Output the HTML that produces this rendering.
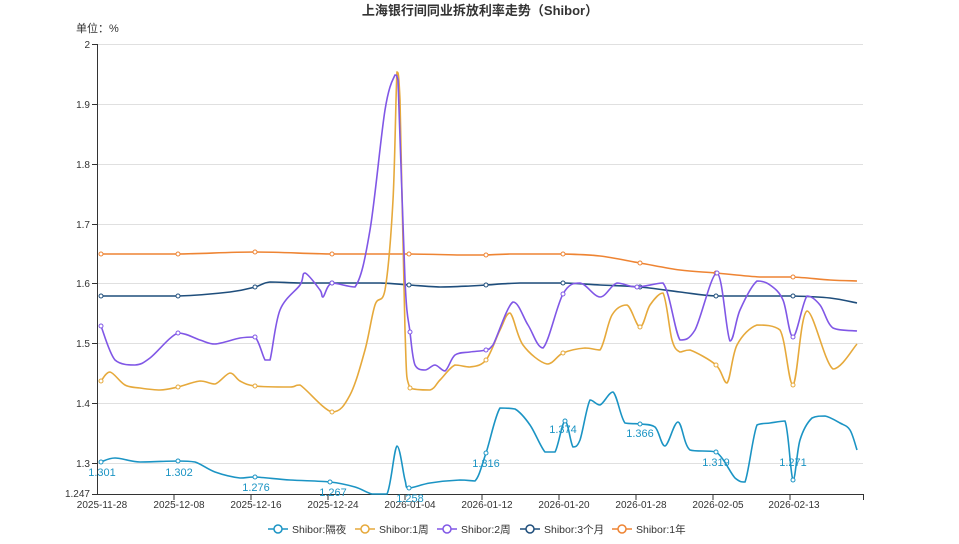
<!DOCTYPE html>
<html><head><meta charset="utf-8"><style>
body{margin:0;background:#fff;font-family:"Liberation Sans","Noto Sans CJK SC",sans-serif}
svg text{font-family:"Liberation Sans","Noto Sans CJK SC",sans-serif}
</style></head><body>
<svg id="s" width="959" height="539" xmlns="http://www.w3.org/2000/svg">
<text x="480" y="15" text-anchor="middle" font-size="13" font-weight="bold" fill="#333">上海银行间同业拆放利率走势（Shibor）</text>
<text x="76" y="32" font-size="11" fill="#333">单位：%</text>
<g stroke="#e0e0e0" stroke-width="1">
<line x1="97" x2="863" y1="44.5" y2="44.5"/><line x1="97" x2="863" y1="104.5" y2="104.5"/>
<line x1="97" x2="863" y1="164.5" y2="164.5"/><line x1="97" x2="863" y1="224.5" y2="224.5"/>
<line x1="97" x2="863" y1="283.5" y2="283.5"/><line x1="97" x2="863" y1="343.5" y2="343.5"/>
<line x1="97" x2="863" y1="403.5" y2="403.5"/><line x1="97" x2="863" y1="463.5" y2="463.5"/>
</g>
<g stroke="#333" stroke-width="1">
<line x1="97.5" x2="97.5" y1="44" y2="495"/><line x1="97" x2="864" y1="494.5" y2="494.5"/>
<line x1="92" x2="97" y1="44.5" y2="44.5"/><line x1="92" x2="97" y1="104.5" y2="104.5"/><line x1="92" x2="97" y1="164.5" y2="164.5"/><line x1="92" x2="97" y1="224.5" y2="224.5"/><line x1="92" x2="97" y1="283.5" y2="283.5"/><line x1="92" x2="97" y1="343.5" y2="343.5"/><line x1="92" x2="97" y1="403.5" y2="403.5"/><line x1="92" x2="97" y1="463.5" y2="463.5"/><line x1="92" x2="97" y1="494.5" y2="494.5"/>
<line x1="174" x2="174" y1="495" y2="500"/><line x1="251" x2="251" y1="495" y2="500"/><line x1="328" x2="328" y1="495" y2="500"/><line x1="405" x2="405" y1="495" y2="500"/><line x1="482" x2="482" y1="495" y2="500"/><line x1="559" x2="559" y1="495" y2="500"/><line x1="636" x2="636" y1="495" y2="500"/><line x1="713" x2="713" y1="495" y2="500"/><line x1="790" x2="790" y1="495" y2="500"/><line x1="863.5" x2="863.5" y1="495" y2="500"/>
</g>
<g font-size="10" fill="#333" text-anchor="end">
<text x="90" y="48">2</text><text x="90" y="108">1.9</text><text x="90" y="168">1.8</text><text x="90" y="228">1.7</text><text x="90" y="287">1.6</text><text x="90" y="347">1.5</text><text x="90" y="407">1.4</text><text x="90" y="467">1.3</text><text x="90" y="497">1.247</text>
</g>
<g font-size="10" fill="#333" text-anchor="middle">
<text x="102" y="508">2025-11-28</text><text x="179" y="508">2025-12-08</text><text x="256" y="508">2025-12-16</text><text x="333" y="508">2025-12-24</text><text x="410" y="508">2026-01-04</text><text x="487" y="508">2026-01-12</text><text x="564" y="508">2026-01-20</text><text x="641" y="508">2026-01-28</text><text x="718" y="508">2026-02-05</text><text x="794" y="508">2026-02-13</text>
</g>
<g id="series"></g>
<g font-size="11" fill="#1b94c4" text-anchor="middle">
<text x="102" y="476">1.301</text><text x="179" y="476">1.302</text><text x="256" y="491">1.276</text><text x="333" y="496">1.267</text><text x="410" y="502">1.258</text><text x="486" y="467">1.316</text><text x="563" y="433">1.374</text><text x="640" y="437">1.366</text><text x="716" y="466">1.319</text><text x="793" y="466">1.271</text>
</g>
<g font-size="10.5" fill="#333">
<g transform="translate(268,529)"><line x1="0" x2="20" stroke="#1b94c4" stroke-width="1.5"/><circle cx="10" r="4" fill="#fff" stroke="#1b94c4" stroke-width="1.5"/><text x="24" y="4">Shibor:隔夜</text></g>
<g transform="translate(355,529)"><line x1="0" x2="20" stroke="#e6a93b" stroke-width="1.5"/><circle cx="10" r="4" fill="#fff" stroke="#e6a93b" stroke-width="1.5"/><text x="24" y="4">Shibor:1周</text></g>
<g transform="translate(437,529)"><line x1="0" x2="20" stroke="#8057e6" stroke-width="1.5"/><circle cx="10" r="4" fill="#fff" stroke="#8057e6" stroke-width="1.5"/><text x="24" y="4">Shibor:2周</text></g>
<g transform="translate(520,529)"><line x1="0" x2="20" stroke="#1f4e7c" stroke-width="1.5"/><circle cx="10" r="4" fill="#fff" stroke="#1f4e7c" stroke-width="1.5"/><text x="24" y="4">Shibor:3个月</text></g>
<g transform="translate(612,529)"><line x1="0" x2="20" stroke="#ee8433" stroke-width="1.5"/><circle cx="10" r="4" fill="#fff" stroke="#ee8433" stroke-width="1.5"/><text x="24" y="4">Shibor:1年</text></g>
</g>
</svg>
<script>
var S=[
["#ee8433",[101,254,178,254,255,252,332,254,409,254,460,255,486,255,510,254,563,254,600,256,640,263,680,270,716,273,760,277,793,277,830,280,857,281]],
["#1f4e7c",[101,296,178,296,230,292,255,287,270,282,300,283,332,283,380,283,409,285,440,287,470,286,486,285,520,283,563,283,600,285,640,287,680,292,716,296,760,296,793,296,830,298,857,303]],
["#e6a93b",[101,381,110,372,125,385,140,388,160,390,178,387,200,381,215,384,230,373,240,381,255,386,290,387,300,385,332,412,350,395,365,350,375,305,385,290,393,200,397,72,400,100,405,330,410,388,430,390,440,380,455,365,470,367,486,360,500,330,510,313,523,345,547,364,563,353,585,348,600,350,612,315,627,305,640,327,650,305,663,293,672,340,680,352,690,350,716,365,727,383,737,345,757,325,780,330,793,385,807,311,833,369,857,344]],
["#8057e6",[101,326,115,360,135,365,150,358,178,333,200,340,215,344,240,338,255,337,265,360,270,360,280,310,300,285,305,273,320,290,323,297,332,283,355,287,370,230,385,110,395,75,398,80,405,280,410,332,415,365,425,370,435,365,445,371,455,355,470,352,486,350,493,345,513,302,528,325,543,348,563,294,580,283,600,297,617,283,637,287,663,283,680,340,695,330,717,273,730,341,740,310,757,281,770,285,783,300,793,337,807,296,820,305,833,328,857,331]],
["#1b94c4",[101,462,115,458,140,462,178,461,195,462,215,472,240,478,255,477,290,480,330,482,355,487,372,494,387,494,397,446,405,480,409,488,430,483,460,480,475,481,486,453,500,408,515,409,530,425,545,452,555,452,565,421,573,447,580,440,590,400,600,405,613,392,625,423,640,424,655,427,665,446,678,422,690,450,716,452,735,478,745,482,757,425,770,423,785,421,793,480,800,440,812,418,825,416,840,423,850,430,857,450]]
];
function cl(v,a,b){var lo=Math.min(a,b),hi=Math.max(a,b);return Math.max(lo,Math.min(hi,v));}
var g=document.getElementById('series'),ns="http://www.w3.org/2000/svg";
S.forEach(function(s){var p=s[1],pts=[];for(var i=0;i<p.length;i+=2)pts.push([p[i],p[i+1]]);
var d="M"+pts[0][0]+","+pts[0][1];
for(var i=0;i<pts.length-1;i++){var p0=pts[i-1]||pts[i],p1=pts[i],p2=pts[i+1],p3=pts[i+2]||p2,t=6;
var y1=cl(p1[1]+(p2[1]-p0[1])/t,p1[1],p2[1]),y2=cl(p2[1]-(p3[1]-p1[1])/t,p1[1],p2[1]);
d+=" C"+(p1[0]+(p2[0]-p0[0])/t)+","+y1+" "+(p2[0]-(p3[0]-p1[0])/t)+","+y2+" "+p2[0]+","+p2[1];}
var e=document.createElementNS(ns,"path");e.setAttribute("d",d);e.setAttribute("fill","none");e.setAttribute("stroke",s[0]);e.setAttribute("stroke-width","1.6");g.appendChild(e);
[101,178,255,332,409,486,563,640,716,793].forEach(function(x){var best=pts[0];pts.forEach(function(q){if(Math.abs(q[0]-x)<Math.abs(best[0]-x))best=q;});
var c=document.createElementNS(ns,"circle");c.setAttribute("cx",best[0]);c.setAttribute("cy",best[1]);c.setAttribute("r","2");c.setAttribute("fill","#fff");c.setAttribute("stroke",s[0]);g.appendChild(c);});
});
</script>
</body></html>
